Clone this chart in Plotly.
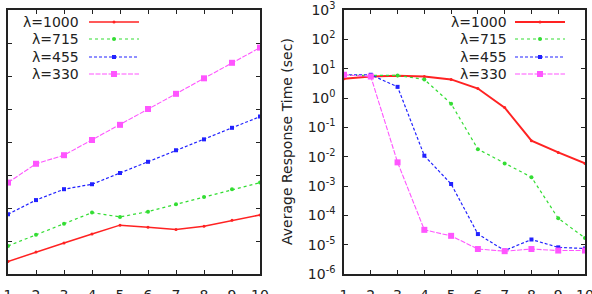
import plotly.graph_objects as go

W, H = 592, 294
x_vals = list(range(1, 11))
series_names = ["λ=1000", "λ=715", "λ=455", "λ=330"]

# Left panel (y labels cropped out of the reference; relative units)
left_1000 = [0.38, 0.67, 0.94, 1.21, 1.48, 1.42, 1.35, 1.45, 1.63, 1.79]
left_715 = [0.85, 1.19, 1.52, 1.86, 1.73, 1.89, 2.11, 2.33, 2.57, 2.77]
left_455 = [1.81, 2.24, 2.57, 2.72, 3.06, 3.40, 3.75, 4.08, 4.43, 4.77]
left_330 = [2.77, 3.34, 3.60, 4.06, 4.52, 5.00, 5.46, 5.93, 6.40, 6.86]

# Right panel: average response time (sec), log scale
right_1000 = [4.5, 5.4, 5.7, 5.4, 4.3, 2.1, 0.47, 0.035, 0.014, 0.0059]
right_715 = [5.9, 5.8, 5.9, 4.3, 0.64, 0.018, 0.0059, 0.002, 7.9e-5, 1.7e-5]
right_455 = [6.2, 6.2, 2.4, 0.0108, 0.00117, 2.3e-5, 6.3e-6, 1.5e-5, 8.1e-6, 7.4e-6]
right_330 = [6.2, 5.4, 0.0064, 3.2e-5, 2.0e-5, 7.1e-6, 6.0e-6, 7.1e-6, 6.3e-6, 6.3e-6]

log_tickvals = [1e-6, 1e-5, 1e-4, 1e-3, 1e-2, 1e-1, 1, 10, 100, 1000]
log_ticktext = ["10<sup>-6</sup>", "10<sup>-5</sup>", "10<sup>-4</sup>", "10<sup>-3</sup>",
                "10<sup>-2</sup>", "10<sup>-1</sup>", "10<sup>0</sup>", "10<sup>1</sup>",
                "10<sup>2</sup>", "10<sup>3</sup>"]
y_title = "Average Response Time (sec)"

colors = ["#ff2222", "#33dd33", "#2222ff", "#ff55ff"]
dashes = ["solid", "dot", "3px,2px", "5px,1.5px"]
widths = [1.5, 1.2, 1.2, 1.1]
symbols = ["circle", "circle", "square", "square"]
msizes = [3, 4, 4, 6]

FONT = "DejaVu Sans"
fig = go.Figure()

left_data = [left_1000, left_715, left_455, left_330]
right_data = [right_1000, right_715, right_455, right_330]
legend_rows = [22, 39, 57, 74]

def px_x(p):
    return p / W

def px_y(p):
    return 1 - p / H

legend_layout = {}
for i, ys in enumerate(left_data):
    lname = "legend" if i == 0 else f"legend{i + 1}"
    fig.add_trace(go.Scatter(
        x=x_vals, y=ys, mode="lines+markers", name=" ",
        line=dict(color=colors[i], width=widths[i], dash=dashes[i]),
        marker=dict(color=colors[i], size=msizes[i], symbol=symbols[i]),
        xaxis="x", yaxis="y", legend=lname))
    legend_layout[lname] = dict(x=px_x(84), y=px_y(legend_rows[i]), xanchor="left",
                                yanchor="middle", bgcolor="rgba(0,0,0,0)", itemwidth=50,
                                font=dict(size=10))
for i, ys in enumerate(right_data):
    lname = f"legend{i + 5}"
    fig.add_trace(go.Scatter(
        x=x_vals, y=ys, mode="lines+markers", name=" ",
        line=dict(color=colors[i], width=widths[i] + (0.5 if i == 0 else 0), dash=dashes[i]),
        marker=dict(color=colors[i], size=msizes[i], symbol=symbols[i]),
        xaxis="x2", yaxis="y2", legend=lname))
    legend_layout[lname] = dict(x=px_x(510), y=px_y(legend_rows[i]), xanchor="left",
                                yanchor="middle", bgcolor="rgba(0,0,0,0)", itemwidth=50,
                                font=dict(size=10))

ydom = [px_y(274), px_y(10)]
axis_common = dict(showline=True, linecolor="#222", linewidth=1.5, mirror="ticks",
                   ticks="inside", ticklen=4, tickcolor="#222", showgrid=False,
                   zeroline=False, automargin=False, ticklabeloverflow="allow",
                   tickfont=dict(family=FONT, size=14, color="#222"))

fig.update_layout(
    width=W, height=H, margin=dict(l=0, r=0, t=0, b=0),
    paper_bgcolor="white", plot_bgcolor="white",
    font=dict(family=FONT, size=14, color="#222"),
    xaxis=dict(domain=[px_x(8), px_x(260)], range=[1, 10], tickvals=x_vals,
               ticklabelstandoff=7, anchor="y", **axis_common),
    yaxis=dict(domain=ydom, range=[0, 8], dtick=1, showticklabels=False,
               anchor="x", **axis_common),
    xaxis2=dict(domain=[px_x(344), px_x(585)], range=[1, 10], tickvals=x_vals,
                ticklabelstandoff=7, anchor="y2", **axis_common),
    yaxis2=dict(domain=ydom, type="log", range=[-6, 3], tickvals=log_tickvals,
                ticktext=log_ticktext, ticklabelstandoff=4, anchor="x2", **axis_common),
    showlegend=True,
    **legend_layout,
)

for i, name in enumerate(series_names):
    fig.add_annotation(text=name, x=px_x(81), y=px_y(legend_rows[i]), xref="paper", yref="paper",
                       xanchor="right", yanchor="middle", showarrow=False,
                       font=dict(family=FONT, size=14, color="#222"))
    fig.add_annotation(text=name, x=px_x(509), y=px_y(legend_rows[i]), xref="paper", yref="paper",
                       xanchor="right", yanchor="middle", showarrow=False,
                       font=dict(family=FONT, size=14, color="#222"))

fig.add_annotation(text=y_title, x=px_x(287), y=px_y(142), xref="paper", yref="paper",
                   textangle=-90, showarrow=False, xanchor="center", yanchor="middle",
                   font=dict(family=FONT, size=14, color="#222"))

fig.write_html("out.html")
